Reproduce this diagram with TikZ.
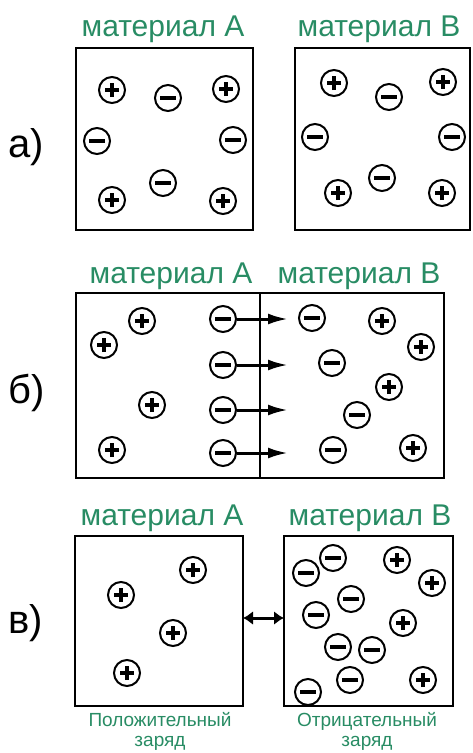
\documentclass[tikz,border=0pt]{standalone}
\usepackage{fontspec}
\setmainfont{Liberation Sans}
\usetikzlibrary{arrows.meta}

\definecolor{matgreen}{RGB}{40,140,100}

\tikzset{
    charge/.style={circle, draw, line width=2pt, minimum size=26pt, inner sep=0pt},
    plus/.style={charge, path picture={
        \draw[line width=3.2pt]
            ([xshift=-7pt]path picture bounding box.center) -- ([xshift=7pt]path picture bounding box.center)
            ([yshift=-7pt]path picture bounding box.center) -- ([yshift=7pt]path picture bounding box.center);}},
    minus/.style={charge, path picture={
        \draw[line width=3.2pt]
            ([xshift=-8pt]path picture bounding box.center) -- ([xshift=8pt]path picture bounding box.center);}},
    box/.style={draw, line width=2.2pt, inner sep=0pt, outer sep=0pt},
    matlabel/.style={text=matgreen, inner sep=0pt, anchor=base, font=\fontsize{30}{32}\selectfont},
    chargelabel/.style={text=matgreen, inner sep=0pt, anchor=base, align=center, font=\fontsize{19}{19.5}\selectfont},
    panel/.style={inner sep=0pt, anchor=base west, font=\fontsize{40}{40}\selectfont},
    flow/.style={line width=3pt, -{Latex[length=20pt,width=11pt]}},
}

\begin{document}
\begin{tikzpicture}[x=1pt,y=-1pt]

    \useasboundingbox (0,0) rectangle (472,753);

    % а) two materials apart
    \node[panel] (la) at (8,157) {а)};
    \node[box, minimum width=177pt, minimum height=182pt] (aA) at (164.5,139) {};
    \node[box, minimum width=175pt, minimum height=182pt] (aB) at (382.5,139) {};
    \node[matlabel] (aAt) at (163,36) {материал A};
    \node[matlabel] (aBt) at (379,36) {материал B};

    \node[plus] (aA1) at (112,90) {};
    \node[minus] (aA2) at (168,98) {};
    \node[plus] (aA3) at (226,89) {};
    \node[minus] (aA4) at (97,141) {};
    \node[minus] (aA5) at (233,140) {};
    \node[minus] (aA6) at (163,183) {};
    \node[plus] (aA7) at (112,200) {};
    \node[plus] (aA8) at (223,201) {};

    \node[plus] (aB1) at (334,83) {};
    \node[minus] (aB2) at (389,97) {};
    \node[plus] (aB3) at (443,82) {};
    \node[minus] (aB4) at (315,137) {};
    \node[minus] (aB5) at (452,137) {};
    \node[minus] (aB6) at (382,178) {};
    \node[plus] (aB7) at (338,193) {};
    \node[plus] (aB8) at (442,193) {};

    % б) contact, electrons go over
    \node[panel] (lb) at (8,403) {б)};
    \node[box, minimum width=368pt, minimum height=185pt] (bAB) at (260,385.5) {};
    \draw[line width=2pt] (bAB.north) -- (bAB.south);
    \node[matlabel] (bAt) at (171,283) {материал A};
    \node[matlabel] (bBt) at (359,283) {материал B};

    \node[plus] (bA1) at (142,321) {};
    \node[plus] (bA2) at (104,345) {};
    \node[plus] (bA3) at (152,405) {};
    \node[plus] (bA4) at (112,450) {};
    \node[minus] (bA5) at (223,319) {};
    \node[minus] (bA6) at (223,365) {};
    \node[minus] (bA7) at (223,410) {};
    \node[minus] (bA8) at (223,453) {};

    \coordinate (t5) at (288,319);
    \coordinate (t6) at (288,365);
    \coordinate (t7) at (288,410);
    \coordinate (t8) at (288,453);
    \draw[flow] (bA5) -- (t5);
    \draw[flow] (bA6) -- (t6);
    \draw[flow] (bA7) -- (t7);
    \draw[flow] (bA8) -- (t8);

    \node[minus] (bB1) at (312,318) {};
    \node[plus] (bB2) at (382,321) {};
    \node[plus] (bB3) at (421,347) {};
    \node[minus] (bB4) at (332,363) {};
    \node[plus] (bB5) at (389,387) {};
    \node[minus] (bB6) at (357,415) {};
    \node[minus] (bB7) at (333,450) {};
    \node[plus] (bB8) at (413,448) {};

    % в) separated again, charged
    \node[panel] (lc) at (8,633) {в)};
    \node[box, minimum width=168pt, minimum height=170pt] (cA) at (159,621) {};
    \node[box, minimum width=169pt, minimum height=170pt] (cB) at (368.5,621) {};
    \node[matlabel] (cAt) at (162,525) {материал A};
    \node[matlabel] (cBt) at (370,525) {материал B};
    \draw[line width=3pt, {Latex[length=10pt,width=14pt]}-{Latex[length=10pt,width=14pt]}]
        ([yshift=3pt]cA.east) -- ([yshift=3pt]cB.west);

    \node[plus] (cA1) at (193,570) {};
    \node[plus] (cA2) at (121,595) {};
    \node[plus] (cA3) at (173,633) {};
    \node[plus] (cA4) at (127,673) {};

    \node[minus] (cB1) at (306,573) {};
    \node[minus] (cB2) at (333,558) {};
    \node[plus] (cB3) at (397,560) {};
    \node[plus] (cB4) at (432,583) {};
    \node[minus] (cB5) at (351,599) {};
    \node[minus] (cB6) at (316,615) {};
    \node[plus] (cB7) at (403,623) {};
    \node[minus] (cB8) at (338,647) {};
    \node[minus] (cB9) at (372,650) {};
    \node[minus] (cB10) at (350,680) {};
    \node[plus] (cB11) at (423,680) {};
    \node[minus] (cB12) at (308,692) {};

    \node[chargelabel] (cAq) at (160,746) {Положительный\\заряд};
    \node[chargelabel] (cBq) at (367,746) {Отрицательный\\заряд};

\end{tikzpicture}
\end{document}
